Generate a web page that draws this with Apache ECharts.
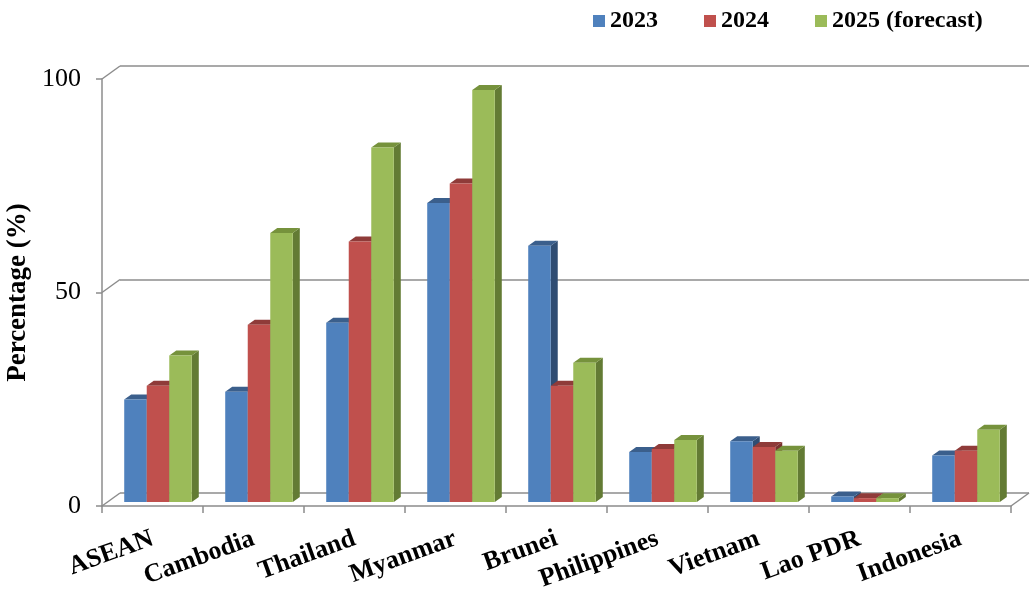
<!DOCTYPE html>
<html>
<head>
<meta charset="utf-8">
<script src="https://cdn.jsdelivr.net/npm/echarts@6/dist/echarts.min.js"></script>
<style>
  html, body { margin: 0; padding: 0; background: #fff; }
  #echarts { width: 1033px; height: 597px; }
</style>
</head>
<body>
<div id="echarts"></div>
<script>
// data
var countries = ["ASEAN", "Cambodia", "Thailand", "Myanmar", "Brunei", "Philippines", "Vietnam", "Lao PDR", "Indonesia"];
var years = ["2023", "2024", "2025 (forecast)"];
var v2023 = [24, 25.8, 42, 70, 60, 11.7, 14.2, 1.3, 10.9];
var v2024 = [27.2, 41.5, 61, 74.6, 27.2, 12.4, 12.9, 0.9, 12];
var v2025 = [34.3, 63, 83, 96.5, 32.6, 14.5, 12, 0.9, 16.9];
var yTicks = [0, 50, 100];

var fontTimes = "'Times New Roman', 'Liberation Serif', serif";
var gridColor = "#8c8c8c";

// front, top, side colours of each 3d bar
var faces = [
  ["#4f81bd", "#3b5f8c", "#2f4d73"],
  ["#c0504d", "#8f3b39", "#7a3230"],
  ["#9bbb59", "#76923c", "#637b34"],
];

// depth of the wall and of the bars (px)
var wallDx = 18, wallDy = -13;
var barDx = 7, barDy = -5;

function barItem(k) {
  return function (params, api) {
    var cat = api.value(0);
    var val = api.value(1);
    var base = api.coord([cat, 0]);
    var top = api.coord([cat, val]);
    var cw = api.size([1, 0])[0];
    var w = cw * 0.223;
    // bars sit half way into the floor
    var sx = (wallDx - barDx) / 2, sy = (wallDy - barDy) / 2;
    var x0 = base[0] - 1.5 * w + k * w + sx;
    var yb = base[1] + sy;
    var yt = top[1] + sy;
    var c = faces[k];
    return {
      type: "group",
      children: [
        {
          type: "polygon",
          shape: { points: [[x0 + w, yt], [x0 + w + barDx, yt + barDy], [x0 + w + barDx, yb + barDy], [x0 + w, yb]] },
          style: { fill: c[2] },
        },
        {
          type: "polygon",
          shape: { points: [[x0, yt], [x0 + w, yt], [x0 + w + barDx, yt + barDy], [x0 + barDx, yt + barDy]] },
          style: { fill: c[1] },
        },
        {
          type: "rect",
          shape: { x: x0, y: yt, width: w, height: yb - yt },
          style: { fill: c[0] },
        },
      ],
    };
  };
}

// diagonal lines that join the front axis to the back wall, plus the floor
function frameItem(params, api) {
  var v = api.value(1);
  var cw = api.size([1, 0])[0];
  var p = api.coord([0, v]);
  var left = p[0] - cw / 2;
  var style = { stroke: gridColor, lineWidth: 1.5, fill: null };
  var children = [
    { type: "line", shape: { x1: left, y1: p[1], x2: left + wallDx, y2: p[1] + wallDy }, style: style },
  ];
  if (params.dataIndex === 0) {
    var r = api.coord([countries.length - 1, 0]);
    var right = r[0] + cw / 2;
    children.push({
      type: "line",
      shape: { x1: right, y1: r[1], x2: right + wallDx, y2: r[1] + wallDy },
      style: style,
    });
  }
  return { type: "group", children: children };
}

function toPairs(arr) {
  return arr.map(function (v, i) {
    return [i, v];
  });
}

var myChart = echarts.init(document.getElementById("echarts"));

myChart.setOption({
  animation: false,
  backgroundColor: "#fff",
  legend: {
    left: 588,
    top: 4,
    itemWidth: 12,
    itemHeight: 12,
    itemGap: 46,
    icon: "rect",
    data: years,
    textStyle: {
      color: "#000",
      fontFamily: fontTimes,
      fontWeight: "bold",
      fontSize: 24,
    },
  },
  grid: [
    // back wall
    { left: 120, right: 4, top: 66, bottom: 104, outerBoundsMode: "none" },
    // front plane
    { left: 102, right: 22, top: 79, bottom: 91, outerBoundsMode: "none" },
  ],
  xAxis: [
    { gridIndex: 0, type: "category", data: countries, show: false },
    {
      gridIndex: 1,
      type: "category",
      data: countries,
      boundaryGap: true,
      axisLine: { show: true, lineStyle: { color: gridColor, width: 1.5 } },
      axisTick: { show: true, length: 7, lineStyle: { color: gridColor, width: 1.5 } },
      axisLabel: {
        interval: 0,
        rotate: 20,
        margin: 32,
        color: "#000",
        fontFamily: fontTimes,
        fontWeight: "bold",
        fontSize: 26,
      },
    },
  ],
  yAxis: [
    {
      gridIndex: 0,
      type: "value",
      min: 0,
      max: 100,
      interval: 50,
      axisLine: { show: false },
      axisTick: { show: false },
      axisLabel: { show: false },
      splitLine: { show: true, lineStyle: { color: gridColor, width: 1.5 } },
    },
    {
      gridIndex: 1,
      type: "value",
      min: 0,
      max: 100,
      interval: 50,
      name: "Percentage (%)",
      nameLocation: "middle",
      nameGap: 56,
      nameTextStyle: {
        color: "#000",
        fontFamily: fontTimes,
        fontWeight: "bold",
        fontSize: 27,
      },
      axisLine: { show: true, lineStyle: { color: gridColor, width: 1.5 } },
      axisTick: { show: true, length: 6, lineStyle: { color: gridColor, width: 1.5 } },
      axisLabel: {
        margin: 21,
        padding: [6, 0, 0, 0],
        color: "#000",
        fontFamily: fontTimes,
        fontSize: 26,
      },
      splitLine: { show: false },
    },
  ],
  series: [
    {
      name: "frame",
      type: "custom",
      xAxisIndex: 1,
      yAxisIndex: 1,
      z: 1,
      silent: true,
      renderItem: frameItem,
      data: yTicks.map(function (v) {
        return [0, v];
      }),
    },
    {
      name: years[0],
      type: "custom",
      xAxisIndex: 1,
      yAxisIndex: 1,
      z: 3,
      itemStyle: { color: faces[0][0] },
      renderItem: barItem(0),
      data: toPairs(v2023),
    },
    {
      name: years[1],
      type: "custom",
      xAxisIndex: 1,
      yAxisIndex: 1,
      z: 4,
      itemStyle: { color: faces[1][0] },
      renderItem: barItem(1),
      data: toPairs(v2024),
    },
    {
      name: years[2],
      type: "custom",
      xAxisIndex: 1,
      yAxisIndex: 1,
      z: 5,
      itemStyle: { color: faces[2][0] },
      renderItem: barItem(2),
      data: toPairs(v2025),
    },
  ],
});
</script>
</body>
</html>
